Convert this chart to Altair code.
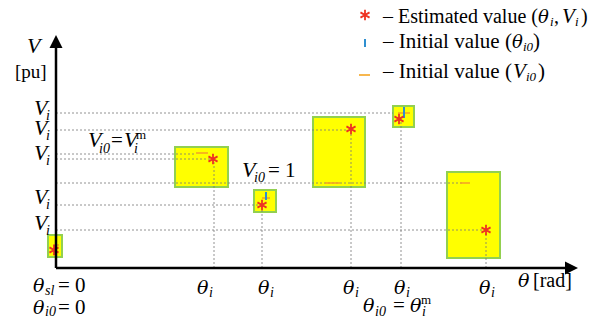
import altair as alt
import pandas as pd

# ---- data (theta in rad-units, V in pu-units of the sketch) ----
# feasible boxes of each bus
box_t1 = [-0.08, 1.19, 1.98, 2.57, 3.37, 3.91]
box_t2 = [0.06, 1.72, 2.20, 3.09, 3.58, 4.44]
box_v1 = [0.11, 0.81, 0.56, 0.81, 1.41, 0.10]
box_v2 = [0.33, 1.21, 0.78, 1.51, 1.62, 0.96]

# estimated values (theta_i, V_i)
est_theta = [-0.02, 1.57, 2.06, 2.95, 3.43, 4.30]
est_v = [0.18, 1.09, 0.63, 1.39, 1.49, 0.38]

# initial values theta_i0 (short vertical ticks)
init_theta = [0.00, 2.10, 3.48]
init_theta_v1 = [0.23, 0.68, 1.50]
init_theta_v2 = [0.31, 0.76, 1.61]

# initial values V_i0 (short horizontal dashes)
init_v = [0.23, 1.15, 0.70, 0.85, 1.55, 0.85]
init_v_t1 = [-0.03, 1.40, 2.06, 2.69, 3.42, 4.04]
init_v_t2 = [0.03, 1.52, 2.14, 2.84, 3.54, 4.14]

# dotted guide lines
hguide_v = [1.55, 1.38, 1.14, 1.09, 0.85, 0.63, 0.38]
hguide_end = [3.37, 2.92, 1.40, 1.54, 4.06, 2.03, 4.27]
vguide_theta = [1.58, 2.06, 2.95, 3.45, 4.30]
vguide_top = [1.09, 0.63, 1.39, 1.49, 0.38]

# axis extents
axis_v_top = 2.22
axis_t_end = 5.10
arrow_up = (0.0, 2.265)
arrow_right = (5.155, 0.0)

# annotation texts: (text, theta, V, size)
v_texts = [
    ("V", -0.29, 2.15, 22),
    ("V", -0.22, 1.53, 22), ("V", -0.22, 1.33, 22), ("V", -0.22, 1.08, 22),
    ("V", -0.22, 0.64, 22), ("V", -0.22, 0.38, 22),
    ("V", 0.32, 1.21, 22), ("V", 0.68, 1.21, 22),
    ("V", 1.86, 0.91, 22),
    ("V", 5.06, 2.45, 21),
    ("V", 4.57, 1.90, 21),
]
theta_texts = [
    ("θ", 1.41, -0.26, 19), ("θ", 2.02, -0.26, 19), ("θ", 2.87, -0.26, 19),
    ("θ", 3.38, -0.26, 19), ("θ", 4.23, -0.26, 19),
    ("θ", -0.23, -0.24, 19), ("θ", -0.23, -0.455, 19),
    ("θ", 3.07, -0.44, 19), ("θ", 3.54, -0.44, 19),
    ("θ", 4.62, -0.19, 19),
    ("θ", 4.82, 2.45, 18),
    ("θ", 4.56, 2.20, 18),
]
sub_texts = [
    ("i", -0.10, 1.48, 14), ("i", -0.10, 1.28, 14), ("i", -0.10, 1.03, 14),
    ("i", -0.10, 0.59, 14), ("i", -0.10, 0.33, 14),
    ("i", 1.53, -0.29, 14), ("i", 2.14, -0.29, 14), ("i", 2.99, -0.29, 14),
    ("i", 3.50, -0.29, 14), ("i", 4.35, -0.29, 14),
    ("sl", -0.11, -0.27, 14), ("i0", -0.11, -0.48, 14),
    ("i0", 3.19, -0.475, 14), ("i", 3.66, -0.475, 14),
    ("i0", 0.43, 1.15, 14), ("i", 0.78, 1.15, 14),
    ("i0", 1.98, 0.86, 14),
    ("i", 4.94, 2.42, 13), ("i", 5.19, 2.42, 13),
    ("i0", 4.67, 2.17, 13),
    ("i0", 4.70, 1.87, 13),
]
normal_texts = [
    ("[pu]", -0.41, 1.90, 19),
    ("= 0", 0.02, -0.24, 21), ("= 0", 0.02, -0.455, 21),
    ("=", 3.37, -0.44, 21), ("m", 3.65, -0.36, 13),
    ("[rad]", 4.77, -0.19, 20),
    ("=", 0.55, 1.21, 21), ("m", 0.80, 1.29, 13),
    ("= 1", 2.12, 0.91, 21),
    ("– Estimated value (", 3.27, 2.45, 20), (",", 4.98, 2.45, 20), (")", 5.25, 2.45, 20),
    ("– Initial value (", 3.27, 2.20, 21), (")", 4.77, 2.20, 21),
    ("– Initial value (", 3.27, 1.90, 21), (")", 4.82, 1.90, 21),
]
# legend symbols
leg_star = (3.09, 2.53)
leg_tick = (3.09, 2.21, 2.29)
leg_dash = (3.03, 3.14, 1.93)

# ---- chart ----
xs = alt.Scale(domain=[-0.48, 5.48], nice=False, zero=False)
ys = alt.Scale(domain=[-0.50, 2.60], nice=False, zero=False)
X = lambda f: alt.X(f, type="quantitative", scale=xs, axis=None)
Y = lambda f: alt.Y(f, type="quantitative", scale=ys, axis=None)

ASTERISK = "M0,-1L0,1M-0.87,-0.5L0.87,0.5M-0.87,0.5L0.87,-0.5"
RED = "#ee3322"
BLUE = "#2f8fd0"
ORANGE = "#f5a623"
FONT = "Liberation Serif"

boxes = alt.Chart(pd.DataFrame({"t1": box_t1, "t2": box_t2, "v1": box_v1, "v2": box_v2})).mark_rect(
    fill="#ffff00", stroke="#92d050", strokeWidth=2
).encode(x=X("t1"), x2="t2", y=Y("v1"), y2="v2")

hg = alt.Chart(pd.DataFrame({"v": hguide_v, "t0": [0.0] * len(hguide_v), "t1": hguide_end})).mark_rule(
    color="#777777", strokeWidth=0.8, strokeDash=[2, 2]
).encode(x=X("t0"), x2="t1", y=Y("v"))

vg = alt.Chart(pd.DataFrame({"t": vguide_theta, "v0": [0.0] * len(vguide_theta), "v1": vguide_top})).mark_rule(
    color="#777777", strokeWidth=0.8, strokeDash=[2, 2]
).encode(x=X("t"), y=Y("v0"), y2="v1")

dashes = alt.Chart(pd.DataFrame({"v": init_v + [leg_dash[2]], "t1": init_v_t1 + [leg_dash[0]],
                                 "t2": init_v_t2 + [leg_dash[1]]})).mark_rule(
    color=ORANGE, strokeWidth=1.6
).encode(x=X("t1"), x2="t2", y=Y("v"))

ticks = alt.Chart(pd.DataFrame({"t": init_theta + [leg_tick[0]], "v1": init_theta_v1 + [leg_tick[1]],
                                "v2": init_theta_v2 + [leg_tick[2]]})).mark_rule(
    color=BLUE, strokeWidth=2
).encode(x=X("t"), y=Y("v1"), y2="v2")

stars = alt.Chart(pd.DataFrame({"t": est_theta + [leg_star[0]], "v": est_v + [leg_star[1]]})).mark_point(
    shape=ASTERISK, filled=False, stroke=RED, strokeWidth=1.8, size=110, opacity=1
).encode(x=X("t"), y=Y("v"))

yaxis = alt.Chart(pd.DataFrame({"t": [0.0], "v0": [0.0], "v1": [axis_v_top]})).mark_rule(
    color="black", strokeWidth=2.5
).encode(x=X("t"), y=Y("v0"), y2="v1")
xaxis = alt.Chart(pd.DataFrame({"t0": [0.0], "t1": [axis_t_end], "v": [0.0]})).mark_rule(
    color="black", strokeWidth=2.5
).encode(x=X("t0"), x2="t1", y=Y("v"))

arr_up = alt.Chart(pd.DataFrame({"t": [arrow_up[0]], "v": [arrow_up[1]]})).mark_point(
    shape="M0,-1L1,1L-1,1Z", filled=True, color="black", size=169, opacity=1
).encode(x=X("t"), y=Y("v"))
arr_right = alt.Chart(pd.DataFrame({"t": [arrow_right[0]], "v": [arrow_right[1]]})).mark_point(
    shape="M1,0L-1,-1L-1,1Z", filled=True, color="black", size=169, opacity=1
).encode(x=X("t"), y=Y("v"))


def text_layer(rows, italic, font=FONT):
    df = pd.DataFrame(rows, columns=["text", "t", "v", "size"])
    kw = dict(align="left", baseline="alphabetic", font=font, color="black")
    if italic:
        kw["fontStyle"] = "italic"
    return alt.Chart(df).mark_text(**kw).encode(
        x=X("t"), y=Y("v"), text="text:N", size=alt.Size("size:Q", scale=None)
    )


chart = alt.layer(
    boxes, hg, vg, dashes, ticks, stars, yaxis, xaxis, arr_up, arr_right,
    text_layer(v_texts, True), text_layer(theta_texts, True, "DejaVu Serif"),
    text_layer(sub_texts, True), text_layer(normal_texts, False),
).properties(
    width=596, height=310, padding=0, autosize=alt.AutoSizeParams(type="none"), background="white"
).configure_view(stroke=None)

chart.save("out.html", embed_options={"renderer": "svg", "actions": False})
